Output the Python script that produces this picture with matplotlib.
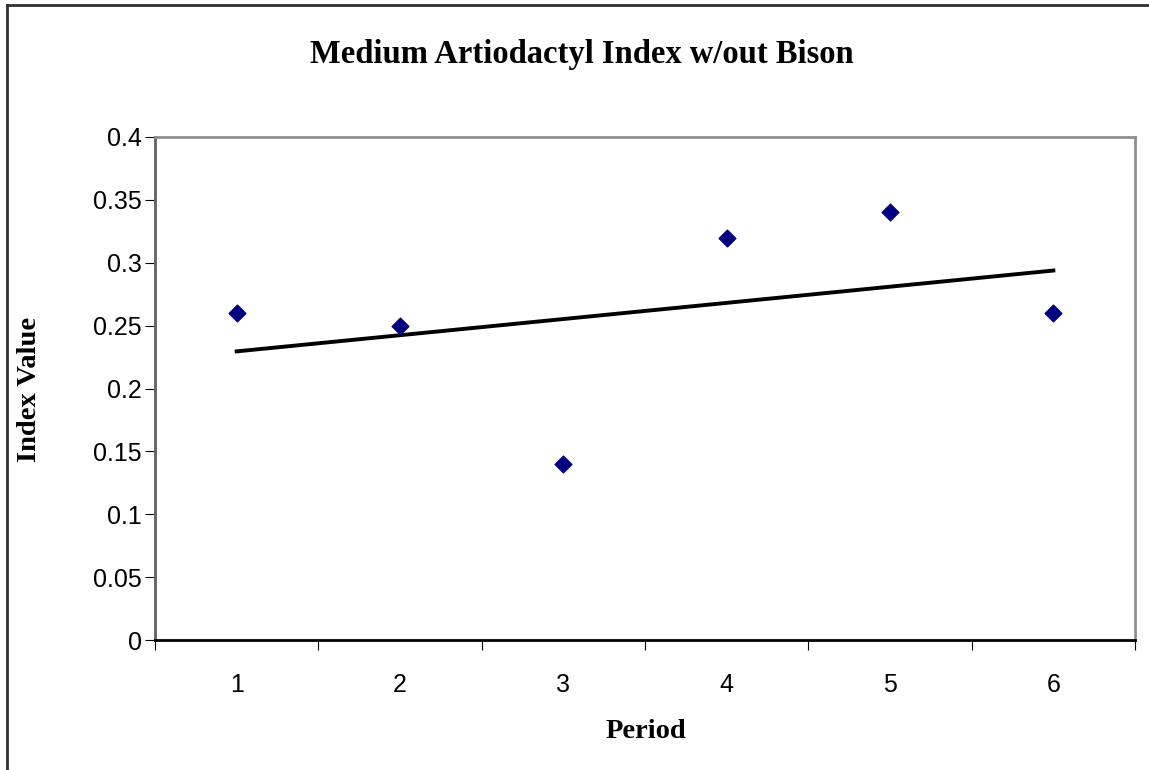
import matplotlib.pyplot as plt
import numpy as np
from matplotlib.lines import Line2D

period = [1, 2, 3, 4, 5, 6]
index_value = [0.26, 0.25, 0.14, 0.32, 0.34, 0.26]

fig = plt.figure(figsize=(11.49, 7.70), dpi=100)
ax = fig.add_axes([155/1149, 1 - 640/770, (1135-155)/1149, (640-137)/770])

ax.scatter(period, index_value, marker='D', s=8.5**2, color='#000080', zorder=3)

coefs = np.polyfit(period, index_value, 1)
xline = np.array([period[0], period[-1]])
ax.plot(xline, coefs[0]*xline + coefs[1], color='black', lw=2.8, zorder=2)

ax.set_xlim(0.5, 6.5)
ax.set_ylim(0, 0.4)
ax.set_xticks(np.arange(0.5, 7, 1))
ax.set_xticklabels([])
ax.set_xticks(period, minor=True)
ax.set_xticklabels([str(p) for p in period], minor=True)
ax.tick_params(axis='x', which='minor', length=0, pad=24, labelsize=18)
ax.tick_params(axis='x', which='major', direction='out', length=7, color='black')
ax.set_yticks(np.arange(0, 0.401, 0.05))
ax.set_yticklabels(['0', '0.05', '0.1', '0.15', '0.2', '0.25', '0.3', '0.35', '0.4'])
ax.tick_params(axis='y', direction='out', length=7, labelsize=18, pad=2.5)
for lab in ax.get_xticklabels(minor=True) + ax.get_yticklabels():
    lab.set_fontfamily('Liberation Sans')

ax.spines['top'].set_color('#909090')
ax.spines['right'].set_color('#909090')
ax.spines['left'].set_color('#606060')
ax.spines['bottom'].set_color('black')
for s in ax.spines.values():
    s.set_linewidth(2)

fig.text(582/1149, 1 - 54/770, 'Medium Artiodactyl Index w/out Bison', ha='center', va='center',
         fontfamily='Liberation Serif', fontweight='bold', fontsize=23.5)
fig.text(646/1149, 1 - 731/770, 'Period', ha='center', va='center',
         fontfamily='Liberation Serif', fontweight='bold', fontsize=20.5)
fig.text(30/1149, 1 - 389/770, 'Index Value', ha='center', va='center', rotation=90,
         fontfamily='Liberation Serif', fontweight='bold', fontsize=20.5)

# outer chart border (left and top only visible)
fig.add_artist(Line2D([7/1149, 7/1149], [0, 1 - 5/770], color='#303030', lw=2))
fig.add_artist(Line2D([7/1149, 1], [1 - 5/770, 1 - 5/770], color='#303030', lw=2))

fig.savefig('out.png', dpi=100)
